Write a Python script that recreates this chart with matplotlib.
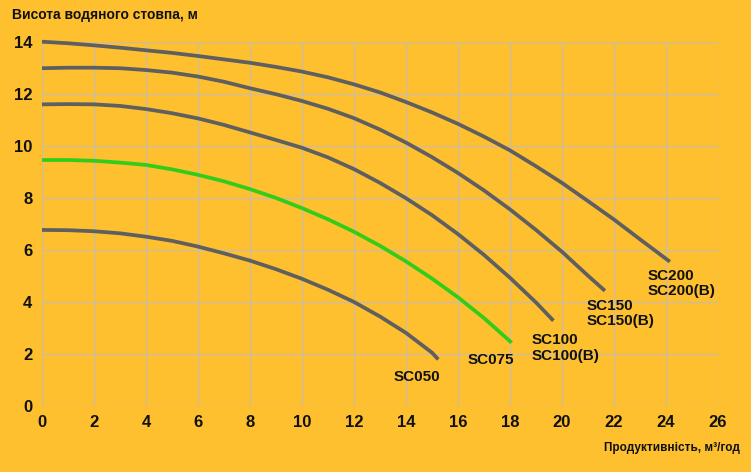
import matplotlib.pyplot as plt

# Криві насосів: продуктивність (м³/год) -> висота (м)
sc050_q = [0, 1, 2, 3, 4, 5, 6, 7, 8, 9, 10, 11, 12, 13, 14, 15, 15.24]
sc050_h = [6.76, 6.75, 6.71, 6.63, 6.5, 6.34, 6.12, 5.86, 5.58, 5.25, 4.88, 4.46,
           3.99, 3.43, 2.8, 2.04, 1.78]

sc075_q = [0, 1, 2, 3, 4, 5, 6, 7, 8, 9, 10, 11, 12, 13, 14, 15, 16, 17, 18, 18.06]
sc075_h = [9.45, 9.45, 9.42, 9.35, 9.26, 9.09, 8.88, 8.63, 8.33, 7.99, 7.6, 7.17,
           6.69, 6.15, 5.55, 4.89, 4.17, 3.37, 2.48, 2.42]

sc100_q = [0, 1, 2, 3, 4, 5, 6, 7, 8, 9, 10, 11, 12, 13, 14, 15, 16, 17, 18, 19, 19.67]
sc100_h = [11.59, 11.6, 11.59, 11.53, 11.41, 11.25, 11.05, 10.8, 10.51, 10.22, 9.92,
           9.55, 9.1, 8.57, 7.98, 7.33, 6.6, 5.8, 4.92, 3.97, 3.27]

sc150_q = [0, 1, 2, 3, 4, 5, 6, 7, 8, 9, 10, 11, 12, 13, 14, 15, 16, 17, 18, 19, 20,
           21, 21.65]
sc150_h = [12.98, 13.0, 13.0, 12.98, 12.91, 12.81, 12.66, 12.46, 12.21, 11.98, 11.72,
           11.42, 11.06, 10.62, 10.12, 9.56, 8.95, 8.28, 7.55, 6.76, 5.92, 5.0, 4.42]

sc200_q = [0, 1, 2, 3, 4, 5, 6, 7, 8, 9, 10, 11, 12, 13, 14, 15, 16, 17, 18, 19, 20,
           21, 22, 23, 24, 24.15]
sc200_h = [14.0, 13.94, 13.86, 13.77, 13.67, 13.57, 13.45, 13.32, 13.19, 13.03, 12.85,
           12.63, 12.36, 12.05, 11.68, 11.28, 10.84, 10.35, 9.82, 9.21, 8.57, 7.87,
           7.16, 6.4, 5.65, 5.54]

labels = ["SC050", "SC075", "SC100\nSC100(B)", "SC150\nSC150(B)", "SC200\nSC200(B)"]
label_pos = [(15.3, 1.1, "right"), (18.15, 1.76, "right"), (18.85, 2.22, "left"),
             (20.96, 3.55, "left"), (23.3, 4.7, "left")]

bg = "#fec02f"
grey = "#5f5f5f"
green = "#33cc1a"

fig = plt.figure(figsize=(7.51, 4.72), dpi=100, facecolor=bg)
ax = fig.add_axes([42 / 751, 1 - 405.7 / 472, 676 / 751, 364 / 472])
ax.set_facecolor(bg)

series = [(sc050_q, sc050_h, grey), (sc075_q, sc075_h, green),
          (sc100_q, sc100_h, grey), (sc150_q, sc150_h, grey),
          (sc200_q, sc200_h, grey)]
for q, h, c in series:
    ax.plot(q, h, color=c, linewidth=2.7, solid_capstyle="butt",
            solid_joinstyle="round", clip_on=False, zorder=3)

for txt, (x, y, ha) in zip(labels, label_pos):
    ax.text(x, y, txt, ha=ha, va="center", fontsize=11, fontweight="bold",
            family="Liberation Sans", linespacing=1.15, color="#111111")

ax.set_xlim(0, 26)
ax.set_ylim(0, 14)
ax.set_xticks(range(0, 27, 2))
ax.set_yticks(range(0, 15, 2))
ax.grid(True, color="#cdbd9c", linewidth=1)
ax.set_axisbelow(True)
for s in ax.spines.values():
    s.set_visible(False)
ax.tick_params(length=0, pad=7)
for lab in ax.get_xticklabels() + ax.get_yticklabels():
    lab.set_family("Liberation Sans")
    lab.set_fontweight("bold")
    lab.set_fontsize(12)
    lab.set_color("#111111")

fig.text(12 / 751, 1 - 15 / 472, "Висота водяного стовпа, м", ha="left", va="center",
         fontsize=10, fontweight="bold", family="Liberation Sans", color="#111111")
fig.text(740 / 751, 1 - 448 / 472, "Продуктивність, м³/год", ha="right", va="center",
         fontsize=8.5, fontweight="bold", family="Liberation Sans", color="#111111")

fig.savefig("out.png", dpi=100, facecolor=bg)
